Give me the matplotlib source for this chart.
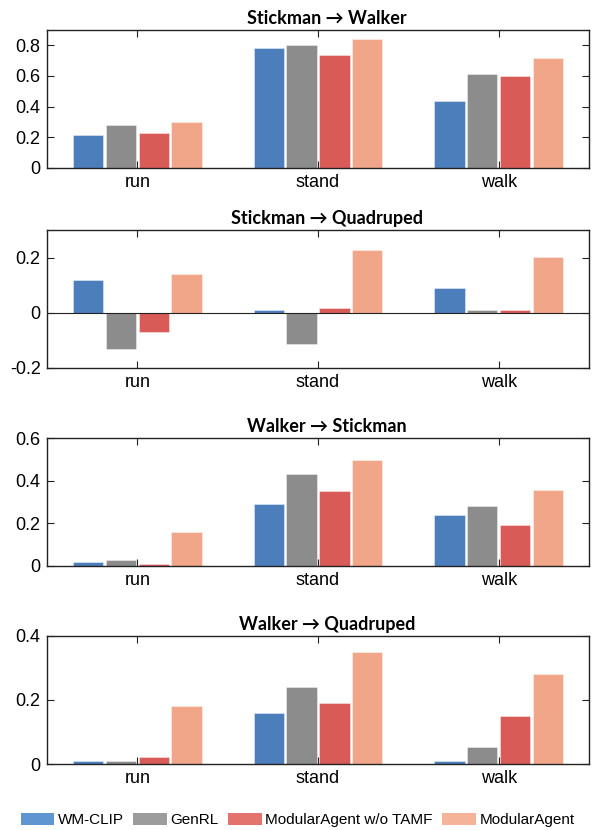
import numpy as np
from matplotlib import pyplot as plt
from matplotlib.patches import Patch

plt.rcParams['font.family'] = ['Liberation Sans', 'DejaVu Sans']

tasks = ["run", "stand", "walk"]
methods = ["WM-CLIP", "GenRL", "ModularAgent w/o TAMF", "ModularAgent"]
titles = ["Stickman \u2192 Walker", "Stickman \u2192 Quadruped",
          "Walker \u2192 Stickman", "Walker \u2192 Quadruped"]

# one list per method, values for run / stand / walk
stick_walker = [[0.215, 0.785, 0.437],
                [0.282, 0.804, 0.613],
                [0.226, 0.737, 0.600],
                [0.298, 0.843, 0.720]]
stick_quad = [[0.120, 0.011, 0.089],
              [-0.130, -0.114, 0.011],
              [-0.071, 0.019, 0.011],
              [0.141, 0.228, 0.202]]
walker_stick = [[0.020, 0.289, 0.239],
                [0.030, 0.431, 0.280],
                [0.010, 0.351, 0.190],
                [0.158, 0.498, 0.358]]
walker_quad = [[0.010, 0.159, 0.010],
               [0.010, 0.240, 0.052],
               [0.022, 0.190, 0.151],
               [0.181, 0.350, 0.281]]
panels = [stick_walker, stick_quad, walker_stick, walker_quad]

ylims = [(0, 0.9), (-0.2, 0.3), (0, 0.6), (0, 0.4)]
yticks = [[0, 0.2, 0.4, 0.6, 0.8], [-0.2, 0, 0.2], [0, 0.2, 0.4, 0.6], [0, 0.2, 0.4]]
yticklabels = [["0", "0.2", "0.4", "0.6", "0.8"], ["-0.2", "0", "0.2"],
               ["0", "0.2", "0.4", "0.6"], ["0", "0.2", "0.4"]]

bar_colors = ["#4C7EBC", "#8C8C8C", "#D95B58", "#F1A68A"]
legend_colors = ["#5F95D0", "#9C9C9C", "#E2736D", "#F5B49A"]

# axes boxes in pixels: top, bottom
boxes = [(30, 168), (230, 368), (438, 566), (636, 764)]
W, H = 595, 830
left, right = 47, 589

fig = plt.figure(figsize=(W / 100, H / 100), dpi=100)

x = np.arange(1, len(tasks) + 1)
step = 0.181
width = 0.168

for p in range(4):
    top, bot = boxes[p]
    ax = fig.add_axes([left / W, 1 - bot / H, (right - left) / W, (bot - top) / H])
    for m in range(4):
        ax.bar(x + (m - 1.5) * step, panels[p][m], width, color=bar_colors[m],
               edgecolor=(1, 1, 1, 0.45), linewidth=0.6, zorder=2)
    if ylims[p][0] < 0:
        ax.axhline(0, color="#222222", linewidth=0.8, zorder=3)
    ax.set_xlim(0.5, 3.5)
    ax.set_ylim(*ylims[p])
    ax.set_xticks(x)
    ax.set_xticklabels(tasks, fontsize=13)
    ax.set_yticks(yticks[p])
    ax.set_yticklabels(yticklabels[p], fontsize=13)
    ax.tick_params(direction="in", length=5, width=0.8, top=True, right=True,
                   color="#222222", pad=4.5)
    ax.tick_params(axis="x", pad=4)
    for s in ax.spines.values():
        s.set_linewidth(1.0)
        s.set_color("#222222")
    ax.set_title(titles[p], fontsize=13, fontweight="bold", family=["Lato", "DejaVu Sans"],
                 x=0.517, pad=4)

handles = [Patch(facecolor=c, edgecolor="none") for c in legend_colors]
fig.legend(handles, methods, loc="center", bbox_to_anchor=(0.5, 1 - 820 / H), ncol=4,
           frameon=False, fontsize=11, handlelength=2.2, handleheight=0.85,
           handletextpad=0.25, columnspacing=0.6)

fig.savefig("out.png", dpi=100)
